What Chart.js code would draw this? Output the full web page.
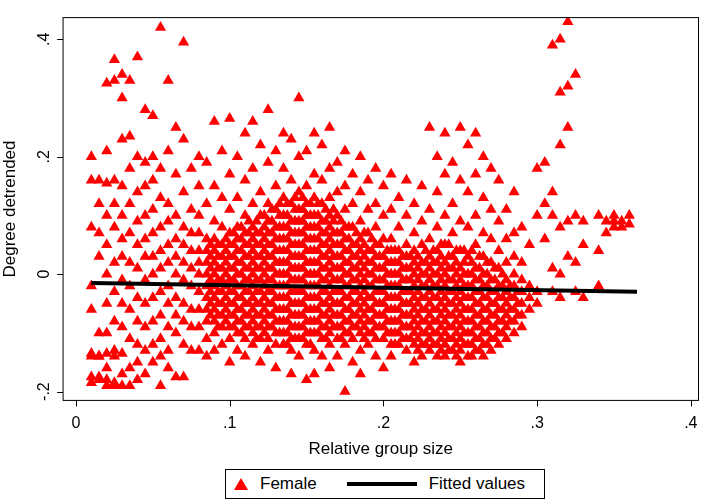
<!DOCTYPE html>
<html>
<head>
<meta charset="utf-8">
<script src="https://cdn.jsdelivr.net/npm/chart.js@4"></script>
<style>
  body { margin: 0; background: #fff; font-family: "Liberation Sans", Arial, sans-serif; }
  #wrap { position: relative; width: 705px; height: 502px; }
  #legend { position: absolute; left: 225px; top: 469px; width: 320px; height: 30px; border: 1px solid #000;
    box-sizing: border-box; display: flex; align-items: center; font-size: 17px; }
  .tri { width: 0; height: 0; border-left: 7px solid transparent; border-right: 7px solid transparent;
    border-bottom: 12px solid #ff0000; margin-left: 8px; margin-right: 12px; }
  .ln { width: 70px; height: 4px; background: #000; margin-left: 30px; margin-right: 12px; }
</style>
</head>
<body>
<div id="wrap">
  <canvas id="c" width="705" height="460" style="width:705px;height:460px"></canvas>
  <div id="legend"><span class="tri"></span>Female<span class="ln"></span>Fitted values</div>
</div>
<script>
// columns of the scatter: [x, list of y values]
const femaleColumns = [
  [0.010, [-0.135,-0.175,-0.185,0.16,0.20,0.08,-0.02,-0.06,-0.14]],
  [0.015, [-0.14,-0.18,-0.175,0.16,0.07,0.03,-0.10,-0.14,0.12]],
  [0.020, [0.325,-0.135,-0.18,-0.19,0.155,0.10,0.05,0.00,-0.05,-0.10,-0.16,0.21]],
  [0.025, [0.365,0.33,-0.14,-0.19,0.16,0.08,0.02,-0.03,-0.08,-0.13,-0.185,0.12]],
  [0.030, [0.34,0.30,0.23,0.15,0.10,0.06,0.03,-0.01,-0.05,-0.09,-0.135,-0.19,-0.17]],
  [0.035, [0.33,0.235,0.18,0.12,0.07,0.02,-0.02,-0.06,-0.11,-0.16,-0.19]],
  [0.040, [0.37,0.20,0.14,0.09,0.05,0.01,-0.04,-0.08,-0.12,-0.15,-0.18]],
  [0.045, [0.28,0.19,0.15,0.10,0.06,0.03,-0.01,-0.05,-0.09,-0.13,-0.17]],
  [0.050, [0.27,0.20,0.16,0.11,0.07,0.03,0.00,-0.04,-0.08,-0.12,-0.15]],
  [0.055, [0.42,0.18,0.13,0.08,0.04,0.01,-0.03,-0.07,-0.11,-0.14,-0.19]],
  [0.060, [0.33,0.21,0.12,0.09,0.05,0.02,-0.02,-0.05,-0.09,-0.13,-0.16]],
  [0.065, [0.25,0.17,0.10,0.06,0.03,0.00,-0.04,-0.07,-0.10,-0.175]],
  [0.070, [0.395,0.23,0.14,0.08,0.05,0.02,-0.01,-0.05,-0.08,-0.12,-0.175]],
  [0.075, [0.18,0.11,0.07,0.04,0.01,-0.02,-0.06,-0.09,-0.13]],
  [0.080, [0.20,0.15,0.10,0.07,0.04,0.02,0.00,-0.03,-0.06,-0.09,-0.13]],
  [0.085, [0.19,0.12,0.06,0.04,0.02,0.00,-0.02,-0.04,-0.06,-0.08,-0.11,-0.14]],
  [0.090, [0.26,0.15,0.09,0.06,0.04,0.02,0.00,-0.02,-0.04,-0.06,-0.08,-0.10,-0.13]],
  [0.095, [0.21,0.13,0.08,0.05,0.03,0.01,-0.01,-0.03,-0.05,-0.07,-0.09,-0.12]],
  [0.100, [0.265,0.17,0.11,0.07,0.05,0.03,0.01,-0.01,-0.03,-0.05,-0.07,-0.09,-0.11,-0.15]],
  [0.105, [0.20,0.13,0.08,0.06,0.04,0.02,0.00,-0.02,-0.04,-0.06,-0.08,-0.10,-0.13]],
  [0.110, [0.24,0.16,0.10,0.07,0.05,0.03,0.01,-0.01,-0.03,-0.05,-0.07,-0.09,-0.11,-0.14]],
  [0.115, [0.26,0.18,0.12,0.08,0.06,0.04,0.02,0.00,-0.02,-0.04,-0.06,-0.08,-0.10,-0.12]],
  [0.120, [0.22,0.14,0.10,0.07,0.05,0.03,0.01,-0.01,-0.03,-0.05,-0.07,-0.09,-0.11,-0.15]],
  [0.125, [0.28,0.19,0.12,0.09,0.07,0.05,0.03,0.01,-0.01,-0.03,-0.05,-0.07,-0.09,-0.11,-0.13]],
  [0.130, [0.21,0.15,0.11,0.08,0.06,0.04,0.02,0.00,-0.02,-0.04,-0.06,-0.08,-0.10,-0.12,-0.16]],
  [0.135, [0.24,0.18,0.13,0.10,0.08,0.06,0.04,0.02,0.00,-0.02,-0.04,-0.06,-0.08,-0.10,-0.12]],
  [0.140, [0.23,0.16,0.12,0.09,0.07,0.05,0.03,0.01,-0.01,-0.03,-0.05,-0.07,-0.09,-0.11,-0.13,-0.17]],
  [0.145, [0.30,0.20,0.14,0.11,0.09,0.07,0.05,0.03,0.01,-0.01,-0.03,-0.05,-0.07,-0.09,-0.11,-0.14]],
  [0.150, [0.21,0.15,0.12,0.10,0.08,0.06,0.04,0.02,0.00,-0.02,-0.04,-0.06,-0.08,-0.10,-0.12,-0.18]],
  [0.155, [0.24,0.17,0.13,0.10,0.08,0.06,0.04,0.02,0.00,-0.02,-0.04,-0.06,-0.08,-0.10,-0.13,-0.17]],
  [0.160, [0.22,0.16,0.12,0.09,0.07,0.05,0.03,0.01,-0.01,-0.03,-0.05,-0.07,-0.09,-0.11,-0.14]],
  [0.165, [0.25,0.18,0.13,0.10,0.08,0.06,0.04,0.02,0.00,-0.02,-0.04,-0.06,-0.08,-0.10,-0.12,-0.16]],
  [0.170, [0.19,0.14,0.10,0.07,0.05,0.03,0.01,-0.01,-0.03,-0.05,-0.07,-0.09,-0.11,-0.14]],
  [0.175, [0.21,0.15,0.11,0.08,0.06,0.04,0.02,0.00,-0.02,-0.04,-0.06,-0.08,-0.10,-0.12,-0.20]],
  [0.180, [0.17,0.12,0.08,0.05,0.03,0.01,-0.01,-0.03,-0.05,-0.07,-0.09,-0.11,-0.15]],
  [0.185, [0.20,0.14,0.09,0.06,0.04,0.02,0.00,-0.02,-0.04,-0.06,-0.08,-0.10,-0.13,-0.17]],
  [0.190, [0.16,0.11,0.07,0.04,0.02,0.00,-0.02,-0.04,-0.06,-0.08,-0.10,-0.12]],
  [0.195, [0.18,0.12,0.08,0.05,0.03,0.01,-0.01,-0.03,-0.05,-0.07,-0.09,-0.11,-0.14]],
  [0.200, [0.15,0.10,0.06,0.03,0.01,-0.01,-0.03,-0.05,-0.07,-0.09,-0.11,-0.16]],
  [0.205, [0.17,0.11,0.06,0.04,0.02,0.00,-0.02,-0.04,-0.06,-0.08,-0.10,-0.12,-0.14]],
  [0.210, [0.13,0.08,0.04,0.02,0.00,-0.02,-0.04,-0.06,-0.08,-0.10,-0.12]],
  [0.215, [0.16,0.10,0.05,0.03,0.01,-0.01,-0.03,-0.05,-0.07,-0.09,-0.11,-0.13]],
  [0.220, [0.12,0.07,0.04,0.02,0.00,-0.02,-0.04,-0.06,-0.08,-0.10,-0.12,-0.15]],
  [0.225, [0.15,0.09,0.05,0.02,0.00,-0.02,-0.04,-0.06,-0.08,-0.10,-0.12,-0.14]],
  [0.230, [0.25,0.11,0.06,0.03,0.01,-0.01,-0.03,-0.05,-0.07,-0.09,-0.11,-0.13]],
  [0.235, [0.20,0.14,0.08,0.04,0.02,0.00,-0.02,-0.04,-0.06,-0.08,-0.10,-0.12,-0.14]],
  [0.240, [0.24,0.17,0.10,0.05,0.02,0.00,-0.02,-0.04,-0.06,-0.08,-0.10,-0.12,-0.14]],
  [0.245, [0.19,0.12,0.07,0.03,0.01,-0.01,-0.03,-0.05,-0.07,-0.09,-0.11,-0.13]],
  [0.250, [0.25,0.16,0.09,0.04,0.01,-0.01,-0.03,-0.05,-0.07,-0.09,-0.11,-0.13,-0.15]],
  [0.255, [0.22,0.14,0.08,0.03,0.00,-0.02,-0.04,-0.06,-0.08,-0.10,-0.12,-0.14]],
  [0.260, [0.24,0.17,0.10,0.05,0.01,-0.01,-0.03,-0.05,-0.07,-0.09,-0.11,-0.13]],
  [0.265, [0.20,0.13,0.07,0.03,0.00,-0.02,-0.04,-0.06,-0.08,-0.10,-0.12,-0.14]],
  [0.270, [0.18,0.11,0.06,0.02,-0.01,-0.03,-0.05,-0.07,-0.09,-0.11,-0.13]],
  [0.275, [0.16,0.09,0.04,0.01,-0.02,-0.04,-0.06,-0.08,-0.10,-0.12]],
  [0.280, [0.11,0.06,0.02,-0.01,-0.03,-0.05,-0.07,-0.09,-0.11]],
  [0.285, [0.14,0.07,0.03,0.00,-0.02,-0.04,-0.06,-0.08,-0.10]],
  [0.290, [0.08,0.02,-0.01,-0.03,-0.05,-0.07,-0.09]],
  [0.295, [0.05,-0.02,-0.04,-0.06]],
  [0.300, [0.18,0.10,-0.03,-0.05]],
  [0.305, [0.19,0.12,0.06]],
  [0.310, [0.39,0.14,0.10,0.01,-0.03]],
  [0.315, [0.40,0.31,0.22,0.08,0.00,-0.04]],
  [0.320, [0.43,0.32,0.25,0.09,0.03]],
  [0.325, [0.34,0.10,0.02,-0.03]],
  [0.330, [0.09,0.05,-0.04]],
  [0.340, [0.10,0.04,-0.02]],
  [0.345, [0.09,0.07]],
  [0.350, [0.10,0.08,0.09]],
  [0.355, [0.09,0.08]],
  [0.360, [0.10,0.085]]
];
// the dense middle of the cloud, between the columns above
const coreColumns = [
  [0.0875, [0.05,0.03,0.01,-0.01,-0.03,-0.05,-0.07]],
  [0.0925, [0.05,0.03,0.01,-0.01,-0.03,-0.05,-0.07,-0.09]],
  [0.0975, [0.06,0.04,0.02,0.00,-0.02,-0.04,-0.06,-0.08]],
  [0.1025, [0.07,0.05,0.03,0.01,-0.01,-0.03,-0.05,-0.07,-0.09]],
  [0.1075, [0.08,0.06,0.04,0.02,0.00,-0.02,-0.04,-0.06,-0.08,-0.10]],
  [0.1125, [0.09,0.07,0.05,0.03,0.01,-0.01,-0.03,-0.05,-0.07,-0.09]],
  [0.1175, [0.09,0.07,0.05,0.03,0.01,-0.01,-0.03,-0.05,-0.07,-0.09,-0.11]],
  [0.1225, [0.10,0.08,0.06,0.04,0.02,0.00,-0.02,-0.04,-0.06,-0.08,-0.10]],
  [0.1275, [0.11,0.09,0.07,0.05,0.03,0.01,-0.01,-0.03,-0.05,-0.07,-0.09]],
  [0.1325, [0.12,0.10,0.08,0.06,0.04,0.02,0.00,-0.02,-0.04,-0.06,-0.08,-0.10]],
  [0.1375, [0.12,0.10,0.08,0.06,0.04,0.02,0.00,-0.02,-0.04,-0.06,-0.08,-0.10,-0.12]],
  [0.1425, [0.13,0.11,0.09,0.07,0.05,0.03,0.01,-0.01,-0.03,-0.05,-0.07,-0.09,-0.11]],
  [0.1475, [0.13,0.11,0.09,0.07,0.05,0.03,0.01,-0.01,-0.03,-0.05,-0.07,-0.09,-0.11]],
  [0.1525, [0.12,0.10,0.08,0.06,0.04,0.02,0.00,-0.02,-0.04,-0.06,-0.08,-0.10,-0.12]],
  [0.1575, [0.12,0.10,0.08,0.06,0.04,0.02,0.00,-0.02,-0.04,-0.06,-0.08,-0.10]],
  [0.1625, [0.11,0.09,0.07,0.05,0.03,0.01,-0.01,-0.03,-0.05,-0.07,-0.09,-0.11]],
  [0.1675, [0.11,0.09,0.07,0.05,0.03,0.01,-0.01,-0.03,-0.05,-0.07,-0.09]],
  [0.1725, [0.09,0.07,0.05,0.03,0.01,-0.01,-0.03,-0.05,-0.07,-0.09,-0.11]],
  [0.1775, [0.08,0.06,0.04,0.02,0.00,-0.02,-0.04,-0.06,-0.08,-0.10]],
  [0.1825, [0.07,0.05,0.03,0.01,-0.01,-0.03,-0.05,-0.07,-0.09]],
  [0.1875, [0.07,0.05,0.03,0.01,-0.01,-0.03,-0.05,-0.07,-0.09,-0.11]],
  [0.1925, [0.06,0.04,0.02,0.00,-0.02,-0.04,-0.06,-0.08,-0.10]],
  [0.1975, [0.05,0.03,0.01,-0.01,-0.03,-0.05,-0.07,-0.09]],
  [0.2025, [0.04,0.02,0.00,-0.02,-0.04,-0.06,-0.08,-0.10]],
  [0.2075, [0.04,0.02,0.00,-0.02,-0.04,-0.06,-0.08,-0.10,-0.12]],
  [0.2125, [0.03,0.01,-0.01,-0.03,-0.05,-0.07,-0.09,-0.11]],
  [0.2175, [0.03,0.01,-0.01,-0.03,-0.05,-0.07,-0.09,-0.11]],
  [0.2225, [0.03,0.01,-0.01,-0.03,-0.05,-0.07,-0.09,-0.11,-0.13]],
  [0.2275, [0.04,0.02,0.00,-0.02,-0.04,-0.06,-0.08,-0.10,-0.12]],
  [0.2325, [0.04,0.02,0.00,-0.02,-0.04,-0.06,-0.08,-0.10,-0.12]],
  [0.2375, [0.05,0.03,0.01,-0.01,-0.03,-0.05,-0.07,-0.09,-0.11,-0.13]],
  [0.2425, [0.05,0.03,0.01,-0.01,-0.03,-0.05,-0.07,-0.09,-0.11,-0.13]],
  [0.2475, [0.04,0.02,0.00,-0.02,-0.04,-0.06,-0.08,-0.10,-0.12,-0.14]],
  [0.2525, [0.04,0.02,0.00,-0.02,-0.04,-0.06,-0.08,-0.10,-0.12]],
  [0.2575, [0.04,0.02,0.00,-0.02,-0.04,-0.06,-0.08,-0.10,-0.12,-0.14]],
  [0.2625, [0.03,0.01,-0.01,-0.03,-0.05,-0.07,-0.09,-0.11,-0.13]],
  [0.2675, [0.02,0.00,-0.02,-0.04,-0.06,-0.08,-0.10,-0.12]],
  [0.2725, [0.01,-0.01,-0.03,-0.05,-0.07,-0.09,-0.11]],
  [0.2775, [0.00,-0.02,-0.04,-0.06,-0.08,-0.10]],
  [0.2825, [-0.02,-0.04,-0.06,-0.08]],
  [0.2875, [-0.03,-0.05,-0.07]]
];
const fittedX = [0.010, 0.365];
const fittedY = [-0.015, -0.030];
const xTicks = [0, 0.1, 0.2, 0.3, 0.4];
const yTicks = [-0.2, 0, 0.2, 0.4];
const fmt = v => v === 0 ? "0" : String(v).replace("0.", ".");

const femalePoints = [];
femaleColumns.concat(coreColumns).forEach(([x, ys]) => ys.forEach(y => femalePoints.push({ x: x, y: y })));
const fittedPoints = fittedX.map((x, i) => ({ x: x, y: fittedY[i] }));

// frame, tick marks and rotated y labels, Stata style
const stataAxes = {
  id: "stataAxes",
  afterDraw(chart) {
    const { ctx, chartArea: a, scales } = chart;
    ctx.save();
    ctx.strokeStyle = "#000";
    ctx.lineWidth = 1;
    ctx.strokeRect(a.left, a.top, a.right - a.left, a.bottom - a.top);
    ctx.beginPath();
    xTicks.forEach(v => {
      const px = Math.round(scales.x.getPixelForValue(v)) + 0.5;
      ctx.moveTo(px, a.bottom); ctx.lineTo(px, a.bottom + 6);
    });
    yTicks.forEach(v => {
      const py = Math.round(scales.y.getPixelForValue(v)) + 0.5;
      ctx.moveTo(a.left, py); ctx.lineTo(a.left - 6, py);
    });
    ctx.stroke();
    ctx.fillStyle = "#000";
    ctx.font = "16px 'Liberation Sans', Arial";
    ctx.textAlign = "center";
    ctx.textBaseline = "bottom";
    yTicks.forEach(v => {
      const py = scales.y.getPixelForValue(v);
      ctx.save();
      ctx.translate(a.left - 10, py);
      ctx.rotate(-Math.PI / 2);
      ctx.fillText(fmt(v), 0, 0);
      ctx.restore();
    });
    ctx.restore();
  }
};

new Chart(document.getElementById("c"), {
  type: "scatter",
  plugins: [stataAxes],
  data: {
    datasets: [
      { label: "Female", data: femalePoints, pointStyle: "triangle", pointRadius: 6.5,
        backgroundColor: "#ff0000", borderColor: "#ff0000", borderWidth: 0, order: 2 },
      { label: "Fitted values", type: "line", data: fittedPoints, borderColor: "#000",
        borderWidth: 4, pointRadius: 0, order: 1 }
    ]
  },
  options: {
    responsive: false,
    animation: false,
    layout: { padding: { top: 0, right: 1, left: 0 } },
    plugins: { legend: { display: false }, tooltip: { enabled: false } },
    scales: {
      x: {
        type: "linear", min: -0.0084, max: 0.405,
        afterBuildTicks: s => { s.ticks = xTicks.map(v => ({ value: v })); },
        grid: { display: false },
        border: { display: false },
        ticks: { color: "#000", font: { size: 16 }, callback: fmt, maxRotation: 0, padding: 6 },
        title: { display: true, text: "Relative group size", color: "#000", font: { size: 17 }, padding: 0 }
      },
      y: {
        type: "linear", min: -0.215, max: 0.437,
        afterBuildTicks: s => { s.ticks = yTicks.map(v => ({ value: v })); },
        grid: { display: false },
        border: { display: false },
        ticks: { color: "rgba(0,0,0,0)", font: { size: 16 }, callback: fmt, padding: 8 },
        title: { display: true, text: "Degree detrended", color: "#000", font: { size: 17 }, padding: 0 }
      }
    }
  }
});
</script>
</body>
</html>
